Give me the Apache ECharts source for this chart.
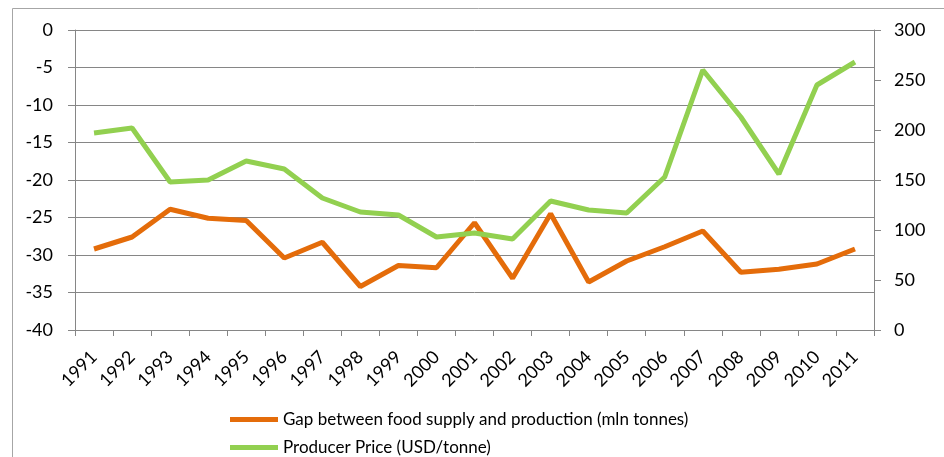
<!DOCTYPE html>
<html><head><meta charset="utf-8">
<script src="https://cdn.jsdelivr.net/npm/echarts@6/dist/echarts.min.js"></script>
<style>html,body{margin:0;padding:0;background:#fff}#c{width:944px;height:457px}</style>
</head><body><div id="c"></div>
<script>
const years = ['1991','1992','1993','1994','1995','1996','1997','1998','1999','2000','2001','2002','2003','2004','2005','2006','2007','2008','2009','2010','2011'];
const gapValues = [-29.2,-27.6,-23.9,-25.1,-25.4,-30.4,-28.3,-34.2,-31.4,-31.7,-25.7,-33.1,-24.5,-33.6,-30.8,-28.9,-26.8,-32.3,-31.9,-31.2,-29.2];
const priceValues = [197,202,148,150,169,161,132,118,115,93,97,91,129,120,117,153,260,213,156,245,268];
const gapName = 'Gap between food supply and production (mln tonnes)';
const priceName = 'Producer Price (USD/tonne)';

const FONT = 'Lato';
const AX = '#868686';
const lineIcon = 'path://M0,0 L10,0 L10,1 L0,1 Z';
const legendBase = {orient:'horizontal', left:225, itemWidth:48, itemHeight:5,
    textStyle:{fontFamily:FONT, fontSize:17, color:'#000'}};
const chart = echarts.init(document.getElementById('c'), null, {renderer:'canvas'});
chart.setOption({
  animation:false,
  textStyle:{fontFamily:FONT},
  graphic:[{type:'rect', left:10, top:6, shape:{width:1000, height:1000}, style:{fill:'none', stroke:'#a6a6a6', lineWidth:1}, z:-1}],
  grid:{left:75, right:70, top:30, bottom:127},
  legend:[
    Object.assign({}, legendBase, {top:406, data:[{name:gapName, icon:lineIcon}]}),
    Object.assign({}, legendBase, {top:434, data:[{name:priceName, icon:lineIcon}]})
  ],
  xAxis:[
    {type:'category', data:years, position:'bottom', boundaryGap:true,
     axisLine:{show:false}, axisTick:{show:false},
     axisLabel:{rotate:45, fontSize:18, color:'#000', margin:24, fontFamily:FONT}},
    {type:'category', data:years, position:'top', boundaryGap:true,
     axisLine:{show:true, lineStyle:{color:AX, width:1}},
     axisTick:{show:true, inside:true, length:6, lineStyle:{color:AX}},
     axisLabel:{show:false}}
  ],
  yAxis:[
    {type:'value', min:-40, max:0, interval:5, position:'left',
     axisLine:{show:true, lineStyle:{color:AX}},
     axisTick:{show:true, length:7, lineStyle:{color:AX}},
     splitLine:{show:true, lineStyle:{color:AX, width:1}},
     axisLabel:{fontSize:18, color:'#000', margin:22, fontFamily:FONT}},
    {type:'value', min:0, max:300, interval:50, position:'right',
     axisLine:{show:true, lineStyle:{color:AX}},
     axisTick:{show:true, length:7, lineStyle:{color:AX}},
     splitLine:{show:false},
     axisLabel:{fontSize:18, color:'#000', margin:20, fontFamily:FONT}}
  ],
  series:[
    {name:gapName, type:'line', data:gapValues, xAxisIndex:0, yAxisIndex:0, symbol:'none',
     lineStyle:{color:'#E46C0A', width:5}, itemStyle:{color:'#E46C0A'}},
    {name:priceName, type:'line', data:priceValues, xAxisIndex:0, yAxisIndex:1, symbol:'none',
     lineStyle:{color:'#92D050', width:5}, itemStyle:{color:'#92D050'}}
  ]
});
</script></body></html>
